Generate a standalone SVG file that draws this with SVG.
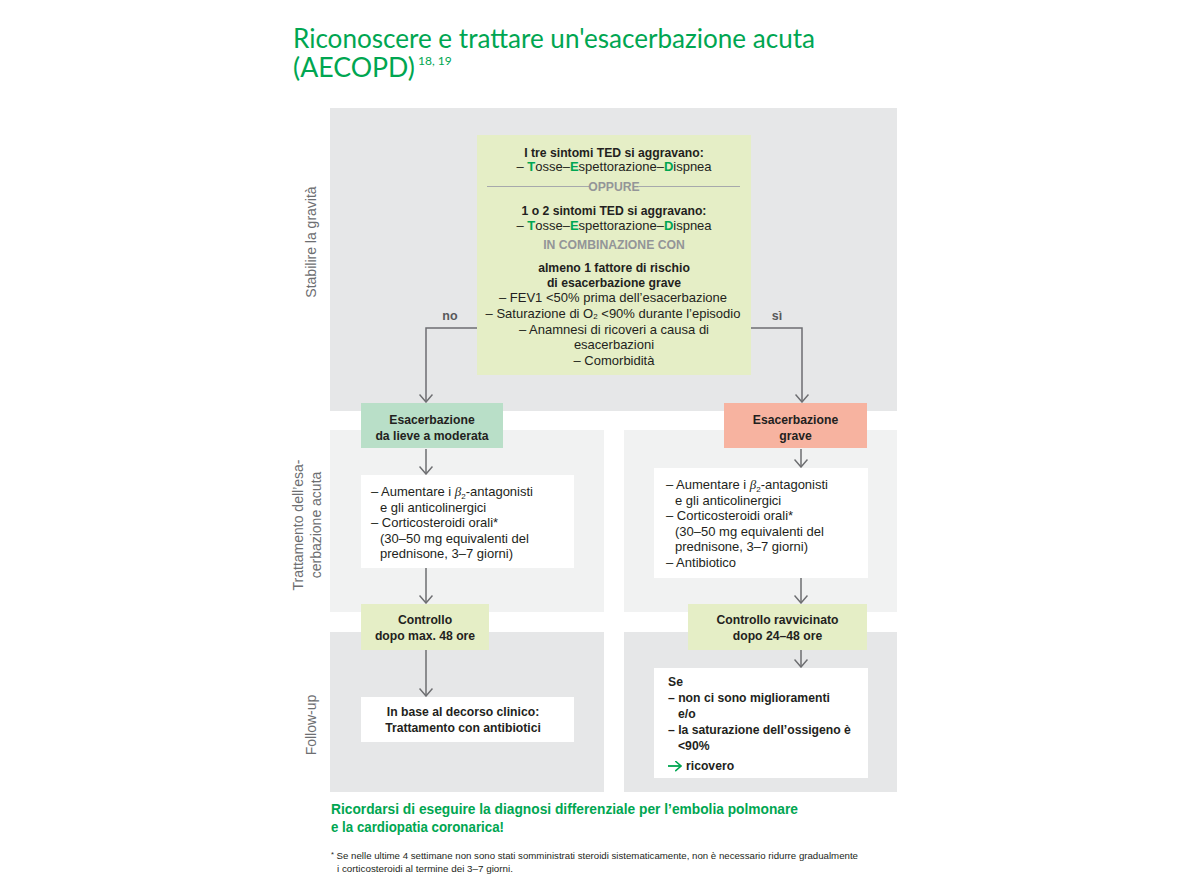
<svg xmlns="http://www.w3.org/2000/svg" width="1180" height="886" viewBox="0 0 1180 886">
<defs>
<style>
.t{font-family:"Liberation Sans",Arial,sans-serif;fill:#231f20}
.r{font-size:13px}
.b{font-size:12.2px;font-weight:bold}
.c{text-anchor:middle}
.g{fill:#00a651}
.ttl{font-family:Lato,"Liberation Sans",Arial,sans-serif;font-weight:400;fill:#00a651}
.gr{fill:#939598;font-weight:bold;font-size:12.2px}
.side{font-family:"Liberation Sans",Arial,sans-serif;font-size:14px;fill:#6d6e71;text-anchor:middle}
.con{fill:none;stroke:#6d6e71;stroke-width:1.5}
</style>
<marker id="ah" viewBox="0 0 9 14" refX="8" refY="7" markerWidth="9" markerHeight="14" markerUnits="userSpaceOnUse" orient="auto">
<path d="M0.5,0.5 L8,7 L0.5,13.5" fill="none" stroke="#6d6e71" stroke-width="1.5"/>
</marker>
<marker id="ahg" viewBox="0 0 9 14" refX="8" refY="7" markerWidth="7" markerHeight="11" markerUnits="userSpaceOnUse" orient="auto">
<path d="M0.5,0.5 L8,7 L0.5,13.5" fill="none" stroke="#00a651" stroke-width="2"/>
</marker>
</defs>
<rect width="1180" height="886" fill="#ffffff"/>

<g id="title">
<text class="ttl" x="293" y="48" font-size="26" textLength="522" lengthAdjust="spacingAndGlyphs">Riconoscere e trattare un'esacerbazione acuta</text>
<text class="ttl" x="293" y="77" font-size="26" textLength="122" lengthAdjust="spacingAndGlyphs">(AECOPD)</text>
<text class="ttl" x="418" y="65" font-size="12">18, 19</text>
</g>

<g id="panels">
<rect x="330" y="108" width="567" height="303" fill="#e6e7e8"/>
<rect x="330" y="430" width="274" height="182" fill="#f1f2f2"/>
<rect x="624" y="430" width="273" height="182" fill="#f1f2f2"/>
<rect x="330" y="632" width="274" height="160" fill="#e6e7e8"/>
<rect x="624" y="632" width="273" height="160" fill="#e6e7e8"/>
</g>

<g id="side-labels">
<text class="side" transform="translate(316,242) rotate(-90)">Stabilire la gravità</text>
<text class="side" transform="translate(303,525) rotate(-90)">Trattamento dell’esa-</text>
<text class="side" transform="translate(321,525) rotate(-90)">cerbazione acuta</text>
<text class="side" transform="translate(316,725) rotate(-90)">Follow-up</text>
</g>

<g id="connectors">
<path class="con" d="M477,328 H426 V402" marker-end="url(#ah)"/>
<path class="con" d="M751,328 H802 V402" marker-end="url(#ah)"/>
<path class="con" d="M426,449 V474" marker-end="url(#ah)"/>
<path class="con" d="M426,568 V603" marker-end="url(#ah)"/>
<path class="con" d="M426,650 V696" marker-end="url(#ah)"/>
<path class="con" d="M801,449 V467" marker-end="url(#ah)"/>
<path class="con" d="M801,578 V603" marker-end="url(#ah)"/>
<path class="con" d="M801,650 V667" marker-end="url(#ah)"/>
<text class="t c" x="450" y="320" style="fill:#58595b;font-weight:bold;font-size:12.5px">no</text>
<text class="t c" x="777" y="320" style="fill:#58595b;font-weight:bold;font-size:12.5px">sì</text>
</g>

<g id="node-criteria">
<rect x="477" y="135" width="274" height="240" fill="#e5eec6"/>
<text class="t b c" x="614" y="157">I tre sintomi TED si aggravano:</text>
<text class="t r c" x="614" y="171">– <tspan class="g" font-weight="bold">T</tspan>osse–<tspan class="g" font-weight="bold">E</tspan>spettorazione–<tspan class="g" font-weight="bold">D</tspan>ispnea</text>
<line x1="487" y1="186.5" x2="589" y2="186.5" stroke="#a7a9ac" stroke-width="1"/>
<line x1="639" y1="186.5" x2="740" y2="186.5" stroke="#a7a9ac" stroke-width="1"/>
<text class="t gr c" x="614" y="191">OPPURE</text>
<text class="t b c" x="614" y="215">1 o 2 sintomi TED si aggravano:</text>
<text class="t r c" x="614" y="230">– <tspan class="g" font-weight="bold">T</tspan>osse–<tspan class="g" font-weight="bold">E</tspan>spettorazione–<tspan class="g" font-weight="bold">D</tspan>ispnea</text>
<text class="t gr c" x="614" y="249">IN COMBINAZIONE CON</text>
<text class="t b c" x="614" y="272">almeno 1 fattore di rischio</text>
<text class="t b c" x="614" y="287">di esacerbazione grave</text>
<text class="t r c" x="613" y="302">– FEV1 &lt;50% prima dell’esacerbazione</text>
<text class="t r c" x="613" y="318">– Saturazione di O<tspan font-size="8" dy="1">2</tspan><tspan dy="-1"> &lt;90% durante l’episodio</tspan></text>
<text class="t r c" x="614" y="334">– Anamnesi di ricoveri a causa di</text>
<text class="t r c" x="614" y="349">esacerbazioni</text>
<text class="t r c" x="614" y="365">– Comorbidità</text>
</g>

<g id="node-mild">
<rect x="361" y="403" width="142" height="45" fill="#b9dfc8"/>
<text class="t b c" x="432" y="424">Esacerbazione</text>
<text class="t b c" x="432" y="440">da lieve a moderata</text>
</g>

<g id="node-severe">
<rect x="724" y="403" width="143" height="45" fill="#f7b3a0"/>
<text class="t b c" x="795.5" y="424">Esacerbazione</text>
<text class="t b c" x="795.5" y="440">grave</text>
</g>

<g id="node-treat-mild">
<rect x="361" y="475" width="213" height="93" fill="#ffffff"/>
<text class="t r" x="371" y="496">– Aumentare i <tspan font-style="italic" font-family="Liberation Serif">β</tspan><tspan font-size="8" dy="2.5">2</tspan><tspan dy="-2.5">-antagonisti</tspan></text>
<text class="t r" x="380" y="511.5">e gli anticolinergici</text>
<text class="t r" x="371" y="527">– Corticosteroidi orali*</text>
<text class="t r" x="380" y="542.5">(30–50 mg equivalenti del</text>
<text class="t r" x="380" y="558">prednisone, 3–7 giorni)</text>
</g>

<g id="node-treat-severe">
<rect x="654" y="468" width="214" height="110" fill="#ffffff"/>
<text class="t r" x="666" y="489">– Aumentare i <tspan font-style="italic" font-family="Liberation Serif">β</tspan><tspan font-size="8" dy="2.5">2</tspan><tspan dy="-2.5">-antagonisti</tspan></text>
<text class="t r" x="675" y="504.5">e gli anticolinergici</text>
<text class="t r" x="666" y="520">– Corticosteroidi orali*</text>
<text class="t r" x="675" y="536">(30–50 mg equivalenti del</text>
<text class="t r" x="675" y="551">prednisone, 3–7 giorni)</text>
<text class="t r" x="666" y="567">– Antibiotico</text>
</g>

<g id="node-control-mild">
<rect x="361" y="604" width="128" height="46" fill="#e5eec6"/>
<text class="t b c" x="425" y="624">Controllo</text>
<text class="t b c" x="425" y="640">dopo max. 48 ore</text>
</g>

<g id="node-control-severe">
<rect x="688" y="604" width="179" height="46" fill="#e5eec6"/>
<text class="t b c" x="777.5" y="624">Controllo ravvicinato</text>
<text class="t b c" x="777.5" y="640">dopo 24–48 ore</text>
</g>

<g id="node-follow-mild">
<rect x="361" y="697" width="213" height="45" fill="#ffffff"/>
<text class="t b c" x="463" y="716">In base al decorso clinico:</text>
<text class="t b c" x="463" y="732">Trattamento con antibiotici</text>
</g>

<g id="node-follow-severe">
<rect x="654" y="668" width="214" height="110" fill="#ffffff"/>
<text class="t b" x="668" y="686">Se</text>
<text class="t b" x="668" y="702">– non ci sono miglioramenti</text>
<text class="t b" x="678" y="718">e/o</text>
<text class="t b" x="668" y="734">– la saturazione dell’ossigeno è</text>
<text class="t b" x="678" y="750">&lt;90%</text>
<path d="M668,766 H681" fill="none" stroke="#00a651" stroke-width="1.8" marker-end="url(#ahg)"/>
<text class="t b" x="686" y="770">ricovero</text>
</g>

<g id="footer">
<text class="t g" x="331" y="814" font-size="14" font-weight="bold" textLength="467" lengthAdjust="spacingAndGlyphs">Ricordarsi di eseguire la diagnosi differenziale per l’embolia polmonare</text>
<text class="t g" x="331" y="832" font-size="14" font-weight="bold" textLength="173" lengthAdjust="spacingAndGlyphs">e la cardiopatia coronarica!</text>
<text class="t" x="331" y="859" font-size="9" textLength="527" lengthAdjust="spacingAndGlyphs"><tspan font-size="7" dy="-2">*</tspan><tspan dy="2"> Se nelle ultime 4 settimane non sono stati somministrati steroidi sistematicamente, non è necessario ridurre gradualmente</tspan></text>
<text class="t" x="337" y="872" font-size="9" textLength="176" lengthAdjust="spacingAndGlyphs">i corticosteroidi al termine dei 3–7 giorni.</text>
</g>
</svg>
